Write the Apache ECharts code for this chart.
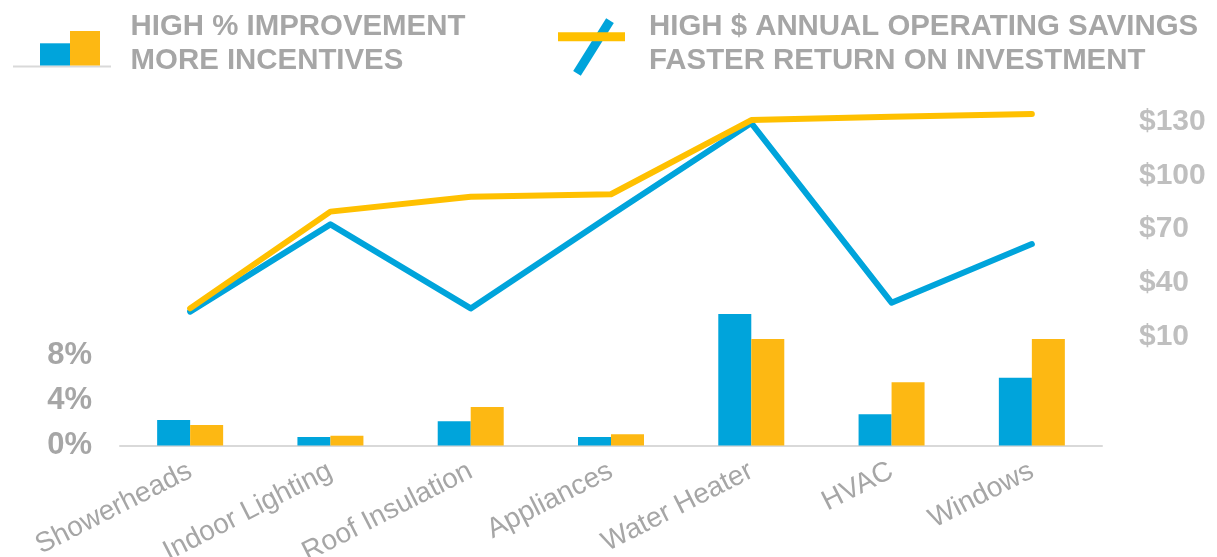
<!DOCTYPE html>
<html>
<head>
<meta charset="utf-8">
<script src="https://cdn.jsdelivr.net/npm/echarts@6/dist/echarts.min.js"></script>
<style>
html,body{margin:0;padding:0;background:#fff;}
#chart{width:1217px;height:557px;}
</style>
</head>
<body>
<div id="chart"></div>
<script>
// ---- data ----
const categories = ['Showerheads', 'Indoor Lighting', 'Roof Insulation', 'Appliances', 'Water Heater', 'HVAC', 'Windows'];
const pctBlue = [2.27, 0.76, 2.15, 0.76, 11.7, 2.77, 6.03];
const pctOrange = [1.82, 0.87, 3.42, 1.0, 9.47, 5.62, 9.47];
const savingsBlue = [24.0, 72.7, 25.8, 77.9, 129.2, 29.0, 61.7];
const savingsOrange = [25.8, 79.8, 88.1, 89.5, 130.9, 132.8, 134.3];
const pctTicks = [0, 4, 8];
const dollarTicks = [10, 40, 70, 100, 130];
const legendLeft = ['HIGH % IMPROVEMENT', 'MORE INCENTIVES'];
const legendRight = ['HIGH $ ANNUAL OPERATING SAVINGS', 'FASTER RETURN ON INVESTMENT'];

const BLUE = '#00A4DB';
const ORANGE_BAR = '#FDB813';
const ORANGE_LINE = '#FFC000';
const GRAY = '#A6A6A6';
const FONT = '"Liberation Sans", Arial, sans-serif';

const chart = echarts.init(document.getElementById('chart'), null, {renderer: 'canvas'});

const txt = (x, y, s) => ({
  type: 'text', x: x, y: y,
  style: {text: s, fill: GRAY, font: 'bold 29.4px ' + FONT, textVerticalAlign: 'middle', textAlign: 'left'}
});

const option = {
  animation: false,
  backgroundColor: '#fff',
  grid: [
    {left: 120, right: 115, top: 265.5, bottom: 111.5, containLabel: false, outerBoundsMode: 'none'},
    {left: 120, right: 115, top: 94.8, bottom: 220.3, containLabel: false, outerBoundsMode: 'none'}
  ],
  xAxis: [
    {
      type: 'category', gridIndex: 0, data: categories, boundaryGap: true,
      axisLine: {lineStyle: {color: '#D9D9D9', width: 2}},
      axisTick: {show: false},
      axisLabel: {rotate: 27, margin: 24, color: GRAY, fontSize: 28, fontFamily: FONT, interval: 0}
    },
    {
      type: 'category', gridIndex: 1, data: categories, boundaryGap: true,
      show: false
    }
  ],
  yAxis: [
    {
      type: 'value', gridIndex: 0, min: 0, max: 16, interval: 4,
      axisLine: {show: false}, axisTick: {show: false}, splitLine: {show: false},
      axisLabel: {
        margin: 28, color: GRAY, fontSize: 31, fontWeight: 'bold', fontFamily: FONT,
        padding: [6, 0, 0, 0],
        formatter: v => pctTicks.includes(v) ? v + '%' : ''
      }
    },
    {
      type: 'value', gridIndex: 1, position: 'right', min: 10, max: 145, interval: 30,
      axisLine: {show: false}, axisTick: {show: false}, splitLine: {show: false},
      axisLabel: {
        margin: 37, color: '#BFBFBF', fontSize: 30, fontWeight: 'bold', fontFamily: FONT,
        padding: [5, 0, 0, 0],
        formatter: v => dollarTicks.includes(v) ? '$' + v : ''
      }
    }
  ],
  series: [
    {type: 'bar', xAxisIndex: 0, yAxisIndex: 0, data: pctBlue, barWidth: 33, barGap: '0%',
     itemStyle: {color: BLUE}},
    {type: 'bar', xAxisIndex: 0, yAxisIndex: 0, data: pctOrange, barWidth: 33, barGap: '0%',
     itemStyle: {color: ORANGE_BAR}},
    {type: 'line', xAxisIndex: 1, yAxisIndex: 1, data: savingsBlue, symbol: 'none',
     lineStyle: {color: BLUE, width: 6, cap: 'round', join: 'round'}},
    {type: 'line', xAxisIndex: 1, yAxisIndex: 1, data: savingsOrange, symbol: 'none',
     lineStyle: {color: ORANGE_LINE, width: 6, cap: 'round', join: 'round'}}
  ],
  graphic: [
    {type: 'rect', shape: {x: 13, y: 65.5, width: 98, height: 2}, style: {fill: '#D9D9D9'}},
    {type: 'rect', shape: {x: 40, y: 43.3, width: 30, height: 22.2}, style: {fill: BLUE}},
    {type: 'rect', shape: {x: 70, y: 31, width: 30, height: 34.5}, style: {fill: ORANGE_BAR}},
    txt(130.6, 27, legendLeft[0]),
    txt(130.6, 61, legendLeft[1]),
    {type: 'line', shape: {x1: 577, y1: 73.3, x2: 610, y2: 20.7}, style: {stroke: BLUE, lineWidth: 9, lineCap: 'butt'}},
    {type: 'rect', shape: {x: 558, y: 32.3, width: 67, height: 9}, style: {fill: ORANGE_LINE}},
    txt(649, 27, legendRight[0]),
    txt(649, 61, legendRight[1])
  ]
};
chart.setOption(option);
</script>
</body>
</html>
